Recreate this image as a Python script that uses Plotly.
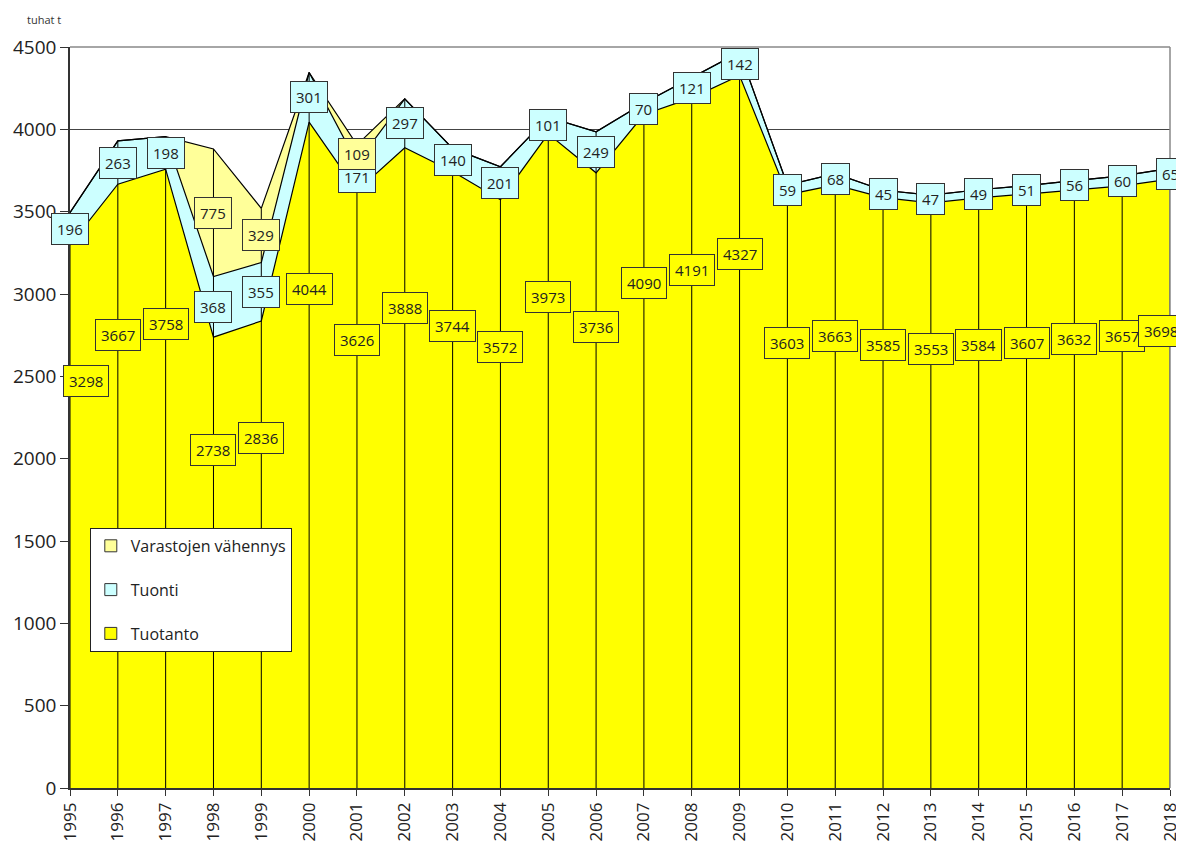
import plotly.graph_objects as go

years = list(range(1995, 2019))
tuotanto = [3298, 3667, 3758, 2738, 2836, 4044, 3626, 3888, 3744, 3572, 3973, 3736,
            4090, 4191, 4327, 3603, 3663, 3585, 3553, 3584, 3607, 3632, 3657, 3698]
tuonti = [196, 263, 198, 368, 355, 301, 171, 297, 140, 201, 101, 249,
          70, 121, 142, 59, 68, 45, 47, 49, 51, 56, 60, 65]
varastot = [0, 0, 0, 775, 329, 0, 109, 0, 0, 0, 0, 0,
            0, 0, 0, 0, 0, 0, 0, 0, 0, 0, 0, 0]
y_ticks = list(range(0, 4501, 500))

C_PROD = "#FFFF00"
C_IMP = "#CCFFFF"
C_STOCK = "#FFFF99"
FONT = "Open Sans"

fig = go.Figure()
for name, vals, col in [("Tuotanto", tuotanto, C_PROD), ("Tuonti", tuonti, C_IMP),
                        ("Varastojen vähennys", varastot, C_STOCK)]:
    fig.add_trace(go.Scatter(x=years, y=vals, name=name, stackgroup="s", mode="lines",
                             line=dict(color="black", width=1.2), fillcolor=col,
                             showlegend=False, hoverinfo="skip"))

# drop lines
totals = [a + b + c for a, b, c in zip(tuotanto, tuonti, varastot)]
dx, dy = [], []
for x, t in zip(years, totals):
    dx += [x, x, None]
    dy += [0, t, None]
fig.add_trace(go.Scatter(x=dx, y=dy, mode="lines", line=dict(color="black", width=1),
                         showlegend=False, hoverinfo="skip"))

# legend dummies
for i, (name, col) in enumerate([("Varastojen vähennys", C_STOCK), ("Tuonti", C_IMP),
                                 ("Tuotanto", C_PROD)]):
    fig.add_trace(go.Scatter(x=[None], y=[None], mode="markers", name=name,
                             legendgroup=f"g{i}",
                             marker=dict(symbol="square", size=12, color=col,
                                         line=dict(color="#333", width=1))))

ann = []
def lab(x, y, txt, col, xanchor="center", xshift=0):
    ann.append(dict(x=x, y=y, text=txt, showarrow=False, bgcolor=col,
                    bordercolor="#333", borderwidth=1, borderpad=5, xanchor=xanchor,
                    xshift=xshift, font=dict(family=FONT, size=15, color="#222")))

first, last = years[0], years[-1]
for x, p, i, s in zip(years, tuotanto, tuonti, varastot):
    if x == first:
        lab(x, p * 0.75, str(p), C_PROD, "left", -7)
    elif x == last:
        lab(x, p * 0.75, str(p), C_PROD, "right", 14)
    else:
        lab(x, p * 0.75, str(p), C_PROD)
    lab(x, p + i / 2, str(i), C_IMP)
    if s > 0:
        lab(x, p + i + s / 2, str(s), C_STOCK)

# plot area in page pixels: left 70, top 47, width 1100, height 741
ann.append(dict(x=(25 - 70) / 1100, y=1 + (47 - 20) / 741, xref="paper", yref="paper",
                text="tuhat t", showarrow=False, xanchor="left", yanchor="middle",
                font=dict(family=FONT, size=11, color="#333")))

# page body has an 8px margin, so the figure is offset by 8px
fig.update_layout(
    width=1176, height=839,
    margin=dict(l=62, r=14, t=39, b=59),
    plot_bgcolor="white", paper_bgcolor="white",
    annotations=ann,
    legend=dict(x=0.018, y=0.351, xanchor="left", yanchor="top",
                bgcolor="white", bordercolor="#222", borderwidth=1,
                font=dict(family=FONT, size=16, color="#222"),
                tracegroupgap=20, itemwidth=30),
    shapes=[
        dict(type="line", xref="paper", yref="paper", x0=0, x1=1, y0=1, y1=1,
             line=dict(color="#888", width=1.5)),
        dict(type="line", xref="paper", yref="paper", x0=1, x1=1, y0=0, y1=1,
             line=dict(color="#888", width=1.5)),
    ],
)
fig.update_xaxes(range=[1995, 2018], tickmode="array", tickvals=years,
                 ticktext=[str(y) for y in years], tickangle=-90, automargin=False,
                 showgrid=False, zeroline=False, showline=True, linecolor="#333",
                 linewidth=1.5, ticks="outside", ticklen=6, tickcolor="#333",
                 tickfont=dict(family=FONT, size=17, color="#222"))
fig.update_yaxes(range=[0, 4500], tickvals=y_ticks, showgrid=True, gridcolor="#444",
                 gridwidth=1, zeroline=False, showline=True, linecolor="#333",
                 linewidth=1.5, ticks="outside", ticklen=8, tickcolor="#333",
                 automargin=False,
                 tickfont=dict(family=FONT, size=19, color="#222"))

fig.write_html("out.html")
